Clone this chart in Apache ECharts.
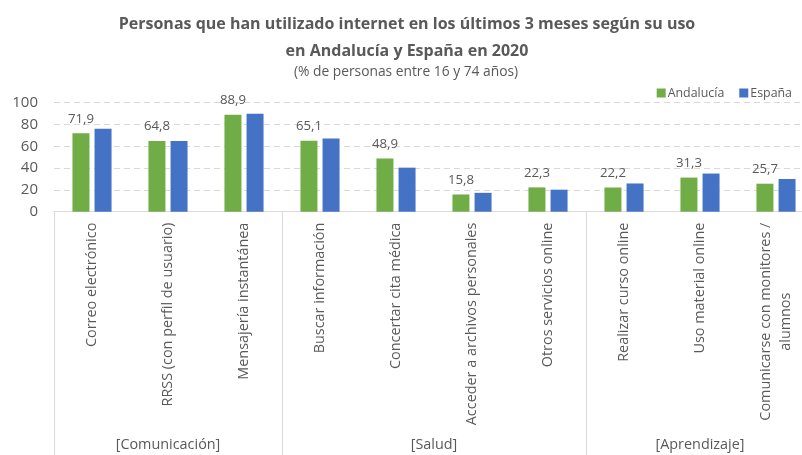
<!DOCTYPE html>
<html><head><meta charset="utf-8">
<script src="https://cdn.jsdelivr.net/npm/echarts@6/dist/echarts.min.js"></script>
<style>html,body{margin:0;padding:0;background:#fff}#c{width:802px;height:455px}</style>
</head><body><div id="c"></div>
<script>
const categories = ["Correo electrónico","RRSS (con perfil de usuario)","Mensajería instantánea","Buscar información","Concertar cita médica","Acceder a archivos personales","Otros servicios online","Realizar curso online","Uso material online","Comunicarse con monitores /\nalumnos"];
const andalucia = [71.9, 64.8, 88.9, 65.1, 48.9, 15.8, 22.3, 22.2, 31.3, 25.7];
const espana = [76.2, 64.9, 89.8, 67.2, 40.4, 17.3, 20.2, 25.9, 35.0, 30.0];
const groupNames = ["[Comunicación]", "[Salud]", "[Aprendizaje]"];
const groupSizes = [3, 4, 3];
const yTicks = [0, 20, 40, 60, 80, 100];

const FONT = "Open Sans";
const GRAY = "#595959";
const LINE = "#d9d9d9";

// group boundaries and centres in category units
const bounds = [0]; groupSizes.forEach(s => bounds.push(bounds[bounds.length-1] + s));
const centres = {};
groupNames.forEach((g, i) => { centres[String((bounds[i] + bounds[i+1]) / 2)] = g; });

const chart = echarts.init(document.getElementById('c'), null, {renderer: 'canvas'});
chart.setOption({
  animation: false,
  textStyle: {fontFamily: FONT},
  title: [
    {text: "Personas que han utilizado internet en los últimos 3 meses según su uso\nen Andalucía y España en 2020",
     left: 407, top: 11, textAlign: 'center', padding: 0,
     textStyle: {fontFamily: FONT, fontWeight: 'bold', fontSize: 16, color: GRAY, lineHeight: 27}},
    {text: "(% de personas entre 16 y 74 años)", left: 406, top: 63, textAlign: 'center', padding: 0,
     textStyle: {fontFamily: FONT, fontWeight: 'normal', fontSize: 13.8, color: GRAY, lineHeight: 18}}
  ],
  legend: {
    right: 10, top: 87, itemWidth: 9, itemHeight: 9, itemGap: 15, icon: 'rect', padding: 0,
    textStyle: {fontFamily: FONT, fontSize: 12.4, color: GRAY, padding: [0,0,0,-3]},
    data: ["Andalucía", "España"]
  },
  grid: {left: 54, width: 760, top: 102.7, bottom: 243.3, containLabel: false, outerBoundsMode: 'none'},
  xAxis: [
    {type: 'category', data: categories, gridIndex: 0, position: 'bottom',
     axisLine: {show: true, lineStyle: {color: LINE, width: 1}},
     axisTick: {show: true, alignWithLabel: false, length: 245, interval: (i) => bounds.indexOf(i) >= 0,
       lineStyle: {color: LINE, width: 1}},
     axisLabel: {interval: 0, rotate: 90, margin: 11, fontFamily: FONT, fontSize: 14.4, color: GRAY, lineHeight: 20,
       formatter: (v) => v.indexOf('\n') >= 0 ? v.split('\n').map(s => '{c|' + s + '}').join('\n') : v,
       rich: {c: {align: 'center', fontFamily: FONT, fontSize: 14.4, color: GRAY, lineHeight: 20}}},
     splitLine: {show: false}},
    {type: 'value', gridIndex: 0, position: 'bottom', offset: 222, min: 0, max: categories.length, interval: 0.5,
     axisLine: {show: false}, axisTick: {show: false}, splitLine: {show: false},
     axisLabel: {show: true, margin: 4, fontFamily: FONT, fontSize: 14.4, color: GRAY, hideOverlap: false,
       showMinLabel: true, showMaxLabel: true,
       formatter: (v) => centres[String(v)] || ''}}
  ],
  yAxis: {type: 'value', min: yTicks[0], max: yTicks[yTicks.length-1], interval: yTicks[1] - yTicks[0],
    axisLine: {show: false}, axisTick: {show: false},
    axisLabel: {margin: 16, fontFamily: FONT, fontSize: 15, color: GRAY},
    splitLine: {show: true, lineStyle: {color: LINE, width: 1, type: [6, 4]}}},
  series: [
    {name: "Andalucía", type: 'bar', data: andalucia, barWidth: 17, barGap: '30%', itemStyle: {color: '#70AD47'},
     label: {show: true, position: 'top', distance: 8, fontFamily: FONT, fontSize: 13.2, color: GRAY,
       formatter: (p) => p.value.toFixed(1).replace('.', ',')}},
    {name: "España", type: 'bar', data: espana, barWidth: 17, barGap: '30%', itemStyle: {color: '#4472C4'}}
  ]
});
</script></body></html>
